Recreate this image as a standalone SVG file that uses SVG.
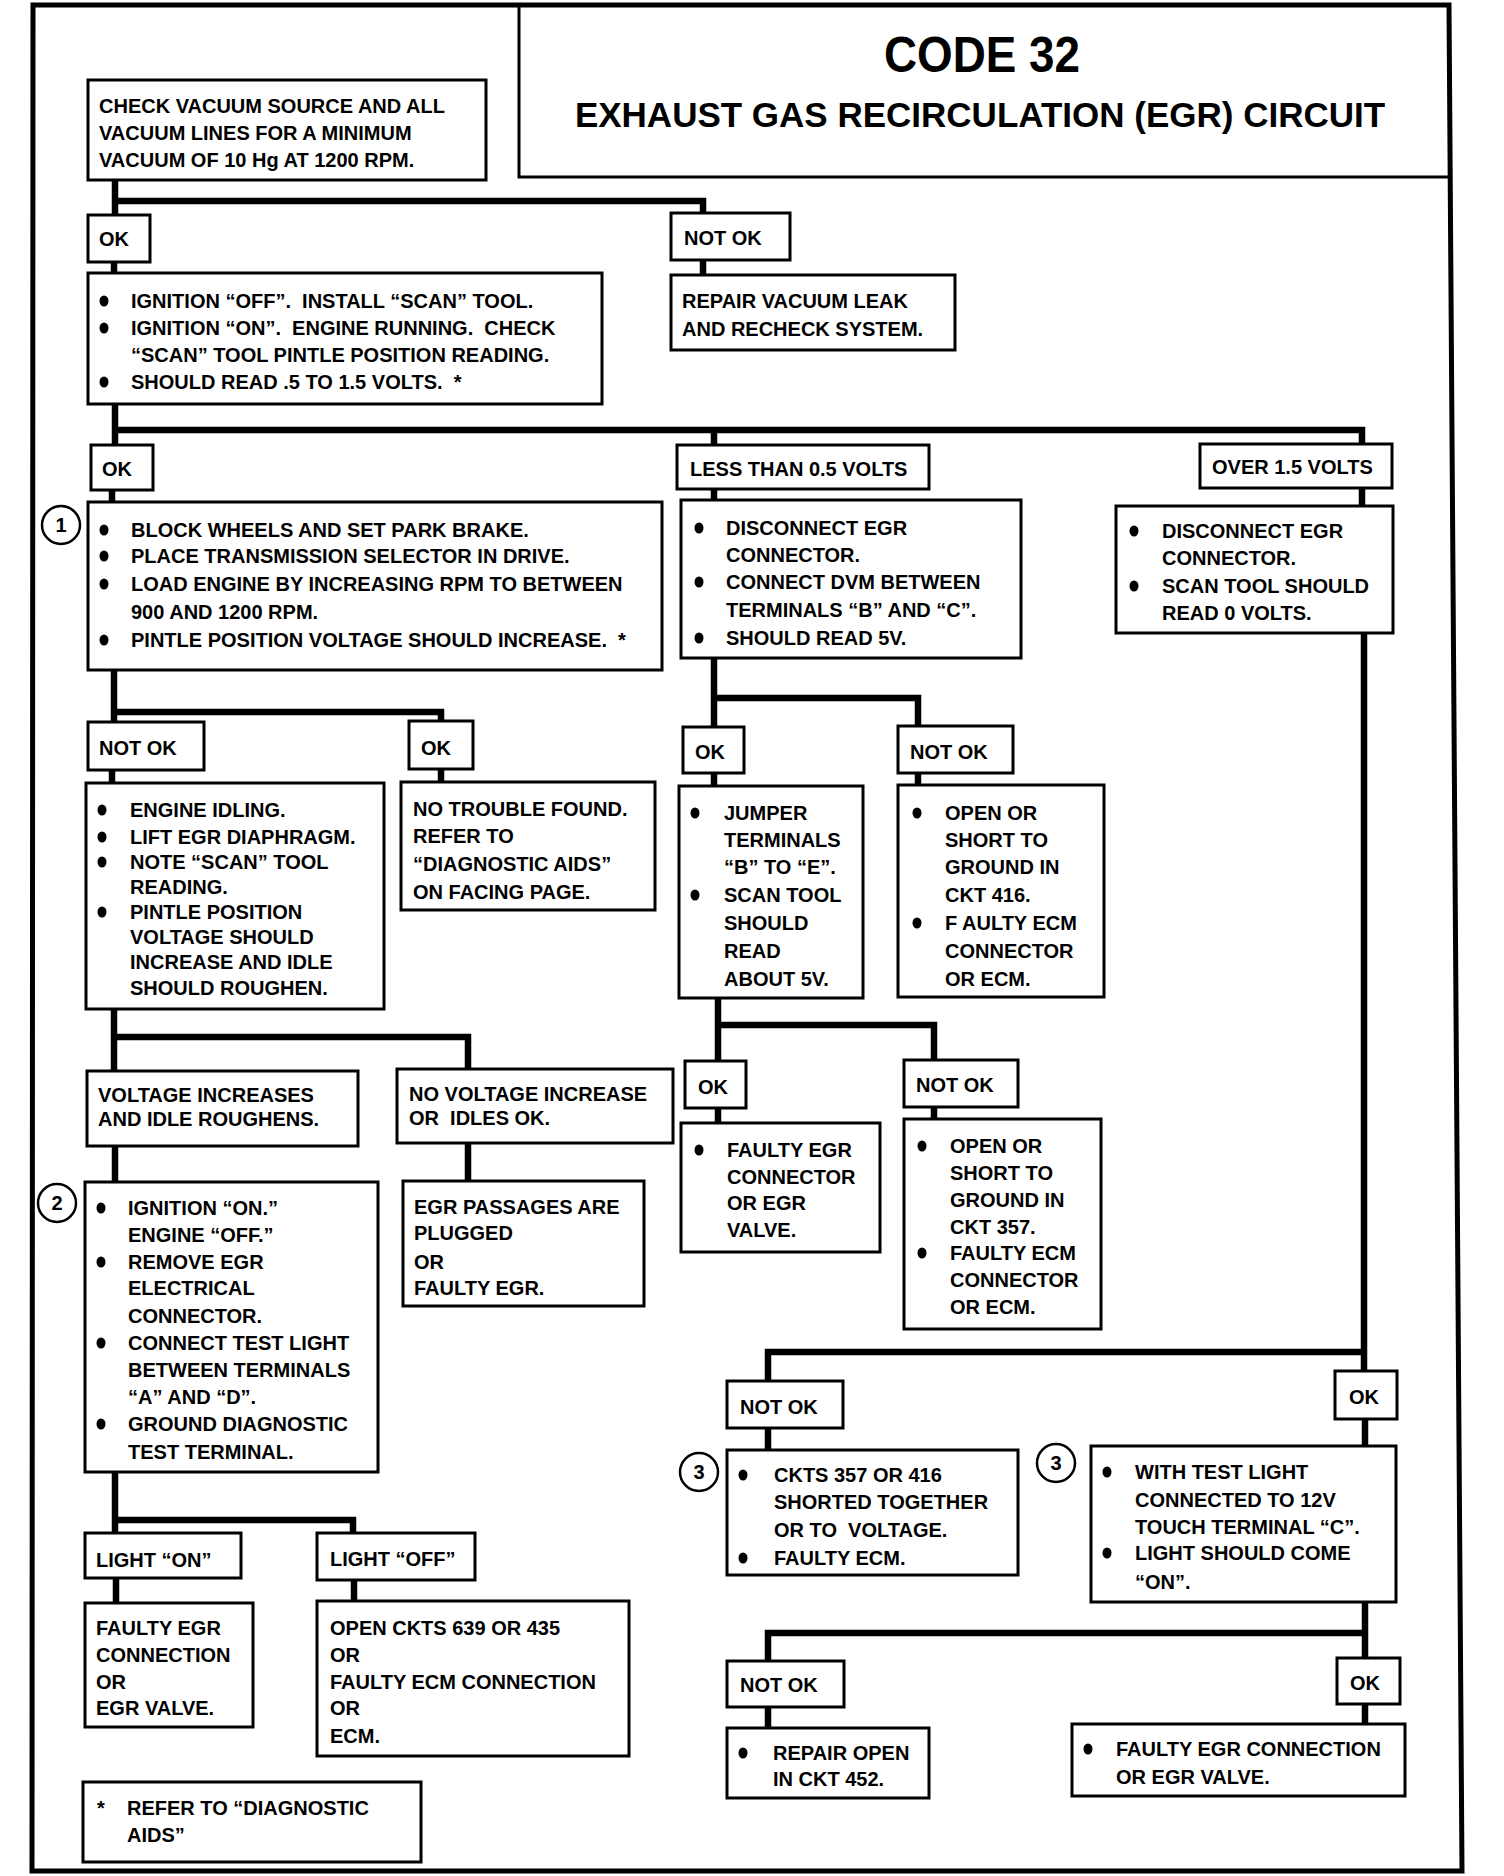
<svg xmlns="http://www.w3.org/2000/svg" width="1504" height="1876" viewBox="0 0 1504 1876">
<style>
.bx{fill:#fff;stroke:#000;stroke-width:3}
.w{fill:none;stroke:#000;stroke-width:6.5;stroke-linejoin:miter}
.t{font-family:"Liberation Sans",Arial,sans-serif;font-weight:bold;font-size:20px;fill:#000;white-space:pre}
.ti{font-family:"Liberation Sans",Arial,sans-serif;font-weight:bold;fill:#000;text-anchor:middle}
.bu{fill:#000}
.cn{fill:#fff;stroke:#000;stroke-width:2.5}
.cnt{font-family:"Liberation Sans",Arial,sans-serif;font-weight:bold;font-size:20px;text-anchor:middle;fill:#000}
</style>
<rect width="1504" height="1876" fill="#fff"/>
<g id="frame">
<path d="M33,5 L1449,5 L1462,1871 L32,1871 Z" fill="none" stroke="#000" stroke-width="5"/>
</g>
<g id="title">
<path d="M519,5 V177 H1451" fill="none" stroke="#000" stroke-width="3"/>
<text class="ti" x="982" y="72" font-size="50" textLength="196" lengthAdjust="spacingAndGlyphs">CODE 32</text>
<text class="ti" x="980" y="127" font-size="35">EXHAUST GAS RECIRCULATION (EGR) CIRCUIT</text>
</g>
<g id="connectors">
<path class="w" d="M115,181 V216"/>
<path class="w" d="M115,201 H703 V214"/>
<path class="w" d="M703,259 V276"/>
<path class="w" d="M114,261 V274"/>
<path class="w" d="M115,403 V446"/>
<path class="w" d="M115,430 H1362 V445"/>
<path class="w" d="M714,430 V446"/>
<path class="w" d="M112,489 V503"/>
<path class="w" d="M714,488 V501"/>
<path class="w" d="M1362,487 V507"/>
<path class="w" d="M114,669 V723"/>
<path class="w" d="M114,712 H441 V722"/>
<path class="w" d="M112,769 V784"/>
<path class="w" d="M441,768 V783"/>
<path class="w" d="M714,657 V728"/>
<path class="w" d="M714,698 H918 V727"/>
<path class="w" d="M714,772 V787"/>
<path class="w" d="M918,772 V786"/>
<path class="w" d="M114,1008 V1072"/>
<path class="w" d="M114,1037 H468 V1070"/>
<path class="w" d="M115,1145 V1183"/>
<path class="w" d="M468,1142 V1182"/>
<path class="w" d="M115,1471 V1534"/>
<path class="w" d="M115,1520 H353 V1534"/>
<path class="w" d="M116,1577 V1604"/>
<path class="w" d="M354,1579 V1602"/>
<path class="w" d="M718,997 V1062"/>
<path class="w" d="M718,1025 H934 V1061"/>
<path class="w" d="M718,1107 V1124"/>
<path class="w" d="M934,1106 V1120"/>
<path class="w" d="M1364,632 V1372"/>
<path class="w" d="M1364,1352 H768 V1382"/>
<path class="w" d="M768,1427 V1451"/>
<path class="w" d="M1365,1418 V1447"/>
<path class="w" d="M1365,1601 V1659"/>
<path class="w" d="M1365,1633 H768 V1662"/>
<path class="w" d="M768,1706 V1729"/>
<path class="w" d="M1365,1703 V1725"/>
</g>
<g id="n_check">
<rect class="bx" x="88" y="80" width="398" height="100"/>
<text class="t"><tspan x="99" y="113">CHECK VACUUM SOURCE AND ALL</tspan><tspan x="99" y="140">VACUUM LINES FOR A MINIMUM</tspan><tspan x="99" y="167">VACUUM OF 10 Hg AT 1200 RPM.</tspan></text>
</g>
<g id="n_ok1"><rect class="bx" x="88" y="215" width="62" height="47"/><text class="t" x="99" y="246">OK</text></g>
<g id="n_notok1"><rect class="bx" x="671" y="213" width="119" height="47"/><text class="t" x="684" y="245">NOT OK</text></g>
<g id="n_ign1">
<rect class="bx" x="88" y="273" width="514" height="131"/>
<ellipse class="bu" cx="104" cy="301" rx="4.5" ry="5.5"/><ellipse class="bu" cx="104" cy="328" rx="4.5" ry="5.5"/><ellipse class="bu" cx="104" cy="382" rx="4.5" ry="5.5"/>
<text class="t"><tspan x="131" y="308">IGNITION “OFF”.  INSTALL “SCAN” TOOL.</tspan><tspan x="131" y="335">IGNITION “ON”.  ENGINE RUNNING.  CHECK</tspan><tspan x="131" y="362">“SCAN” TOOL PINTLE POSITION READING.</tspan><tspan x="131" y="389">SHOULD READ .5 TO 1.5 VOLTS.  *</tspan></text>
</g>
<g id="n_repair">
<rect class="bx" x="671" y="275" width="284" height="75"/>
<text class="t"><tspan x="682" y="308">REPAIR VACUUM LEAK</tspan><tspan x="682" y="336">AND RECHECK SYSTEM.</tspan></text>
</g>
<g id="n_ok2"><rect class="bx" x="91" y="445" width="62" height="45"/><text class="t" x="102" y="476">OK</text></g>
<g id="n_less"><rect class="bx" x="677" y="445" width="252" height="44"/><text class="t" x="690" y="476">LESS THAN 0.5 VOLTS</text></g>
<g id="n_over"><rect class="bx" x="1200" y="444" width="192" height="44"/><text class="t" x="1212" y="474">OVER 1.5 VOLTS</text></g>
<g id="n_block">
<circle class="cn" cx="61" cy="525" r="19"/><text class="cnt" x="61" y="532">1</text>
<rect class="bx" x="88" y="502" width="574" height="168"/>
<ellipse class="bu" cx="104" cy="530" rx="4.5" ry="5.5"/><ellipse class="bu" cx="104" cy="556" rx="4.5" ry="5.5"/><ellipse class="bu" cx="104" cy="584" rx="4.5" ry="5.5"/><ellipse class="bu" cx="104" cy="640" rx="4.5" ry="5.5"/>
<text class="t"><tspan x="131" y="537">BLOCK WHEELS AND SET PARK BRAKE.</tspan><tspan x="131" y="563">PLACE TRANSMISSION SELECTOR IN DRIVE.</tspan><tspan x="131" y="591">LOAD ENGINE BY INCREASING RPM TO BETWEEN</tspan><tspan x="131" y="619">900 AND 1200 RPM.</tspan><tspan x="131" y="647">PINTLE POSITION VOLTAGE SHOULD INCREASE.  *</tspan></text>
</g>
<g id="n_disc1">
<rect class="bx" x="681" y="500" width="340" height="158"/>
<ellipse class="bu" cx="699" cy="528" rx="4.5" ry="5.5"/><ellipse class="bu" cx="699" cy="582" rx="4.5" ry="5.5"/><ellipse class="bu" cx="699" cy="638" rx="4.5" ry="5.5"/>
<text class="t"><tspan x="726" y="535">DISCONNECT EGR</tspan><tspan x="726" y="562">CONNECTOR.</tspan><tspan x="726" y="589">CONNECT DVM BETWEEN</tspan><tspan x="726" y="617">TERMINALS “B” AND “C”.</tspan><tspan x="726" y="645">SHOULD READ 5V.</tspan></text>
</g>
<g id="n_disc2">
<rect class="bx" x="1116" y="506" width="277" height="127"/>
<ellipse class="bu" cx="1134" cy="531" rx="4.5" ry="5.5"/><ellipse class="bu" cx="1134" cy="586" rx="4.5" ry="5.5"/>
<text class="t"><tspan x="1162" y="538">DISCONNECT EGR</tspan><tspan x="1162" y="565">CONNECTOR.</tspan><tspan x="1162" y="593">SCAN TOOL SHOULD</tspan><tspan x="1162" y="620">READ 0 VOLTS.</tspan></text>
</g>
<g id="n_notok_l"><rect class="bx" x="88" y="722" width="116" height="48"/><text class="t" x="99" y="755">NOT OK</text></g>
<g id="n_ok_ml"><rect class="bx" x="409" y="721" width="64" height="48"/><text class="t" x="421" y="755">OK</text></g>
<g id="n_ok_j"><rect class="bx" x="683" y="727" width="61" height="46"/><text class="t" x="695" y="759">OK</text></g>
<g id="n_notok_416"><rect class="bx" x="898" y="726" width="115" height="47"/><text class="t" x="910" y="759">NOT OK</text></g>
<g id="n_engine">
<rect class="bx" x="86" y="783" width="298" height="226"/>
<ellipse class="bu" cx="102" cy="810" rx="4.5" ry="5.5"/><ellipse class="bu" cx="102" cy="837" rx="4.5" ry="5.5"/><ellipse class="bu" cx="102" cy="862" rx="4.5" ry="5.5"/><ellipse class="bu" cx="102" cy="912" rx="4.5" ry="5.5"/>
<text class="t"><tspan x="130" y="817">ENGINE IDLING.</tspan><tspan x="130" y="844">LIFT EGR DIAPHRAGM.</tspan><tspan x="130" y="869">NOTE “SCAN” TOOL</tspan><tspan x="130" y="894">READING.</tspan><tspan x="130" y="919">PINTLE POSITION</tspan><tspan x="130" y="944">VOLTAGE SHOULD</tspan><tspan x="130" y="969">INCREASE AND IDLE</tspan><tspan x="130" y="995">SHOULD ROUGHEN.</tspan></text>
</g>
<g id="n_notrouble">
<rect class="bx" x="401" y="782" width="254" height="128"/>
<text class="t"><tspan x="413" y="816">NO TROUBLE FOUND.</tspan><tspan x="413" y="843">REFER TO</tspan><tspan x="413" y="871">“DIAGNOSTIC AIDS”</tspan><tspan x="413" y="899">ON FACING PAGE.</tspan></text>
</g>
<g id="n_jumper">
<rect class="bx" x="679" y="786" width="184" height="212"/>
<ellipse class="bu" cx="695" cy="813" rx="4.5" ry="5.5"/><ellipse class="bu" cx="695" cy="895" rx="4.5" ry="5.5"/>
<text class="t"><tspan x="724" y="820">JUMPER</tspan><tspan x="724" y="847">TERMINALS</tspan><tspan x="724" y="874">“B” TO “E”.</tspan><tspan x="724" y="902">SCAN TOOL</tspan><tspan x="724" y="930">SHOULD</tspan><tspan x="724" y="958">READ</tspan><tspan x="724" y="986">ABOUT 5V.</tspan></text>
</g>
<g id="n_open416">
<rect class="bx" x="898" y="785" width="206" height="212"/>
<ellipse class="bu" cx="917" cy="813" rx="4.5" ry="5.5"/><ellipse class="bu" cx="917" cy="923" rx="4.5" ry="5.5"/>
<text class="t"><tspan x="945" y="820">OPEN OR</tspan><tspan x="945" y="847">SHORT TO</tspan><tspan x="945" y="874">GROUND IN</tspan><tspan x="945" y="902">CKT 416.</tspan><tspan x="945" y="930">F AULTY ECM</tspan><tspan x="945" y="958">CONNECTOR</tspan><tspan x="945" y="986">OR ECM.</tspan></text>
</g>
<g id="n_voltinc">
<rect class="bx" x="87" y="1071" width="271" height="75"/>
<text class="t"><tspan x="98" y="1102">VOLTAGE INCREASES</tspan><tspan x="98" y="1126">AND IDLE ROUGHENS.</tspan></text>
</g>
<g id="n_novolt">
<rect class="bx" x="397" y="1069" width="276" height="74"/>
<text class="t"><tspan x="409" y="1101">NO VOLTAGE INCREASE</tspan><tspan x="409" y="1125">OR  IDLES OK.</tspan></text>
</g>
<g id="n_ok_f"><rect class="bx" x="685" y="1061" width="61" height="47"/><text class="t" x="698" y="1094">OK</text></g>
<g id="n_notok_357"><rect class="bx" x="904" y="1060" width="114" height="47"/><text class="t" x="916" y="1092">NOT OK</text></g>
<g id="n_faultyconn">
<rect class="bx" x="681" y="1123" width="199" height="129"/>
<ellipse class="bu" cx="699" cy="1150" rx="4.5" ry="5.5"/>
<text class="t"><tspan x="727" y="1157">FAULTY EGR</tspan><tspan x="727" y="1184">CONNECTOR</tspan><tspan x="727" y="1210">OR EGR</tspan><tspan x="727" y="1237">VALVE.</tspan></text>
</g>
<g id="n_open357">
<rect class="bx" x="904" y="1119" width="197" height="210"/>
<ellipse class="bu" cx="922" cy="1146" rx="4.5" ry="5.5"/><ellipse class="bu" cx="922" cy="1253" rx="4.5" ry="5.5"/>
<text class="t"><tspan x="950" y="1153">OPEN OR</tspan><tspan x="950" y="1180">SHORT TO</tspan><tspan x="950" y="1207">GROUND IN</tspan><tspan x="950" y="1234">CKT 357.</tspan><tspan x="950" y="1260">FAULTY ECM</tspan><tspan x="950" y="1287">CONNECTOR</tspan><tspan x="950" y="1314">OR ECM.</tspan></text>
</g>
<g id="n_ignon">
<circle class="cn" cx="57" cy="1203" r="19"/><text class="cnt" x="57" y="1210">2</text>
<rect class="bx" x="85" y="1182" width="293" height="290"/>
<ellipse class="bu" cx="101" cy="1208" rx="4.5" ry="5.5"/><ellipse class="bu" cx="101" cy="1262" rx="4.5" ry="5.5"/><ellipse class="bu" cx="101" cy="1343" rx="4.5" ry="5.5"/><ellipse class="bu" cx="101" cy="1424" rx="4.5" ry="5.5"/>
<text class="t"><tspan x="128" y="1215">IGNITION “ON.”</tspan><tspan x="128" y="1242">ENGINE “OFF.”</tspan><tspan x="128" y="1269">REMOVE EGR</tspan><tspan x="128" y="1295">ELECTRICAL</tspan><tspan x="128" y="1323">CONNECTOR.</tspan><tspan x="128" y="1350">CONNECT TEST LIGHT</tspan><tspan x="128" y="1377">BETWEEN TERMINALS</tspan><tspan x="128" y="1404">“A” AND “D”.</tspan><tspan x="128" y="1431">GROUND DIAGNOSTIC</tspan><tspan x="128" y="1459">TEST TERMINAL.</tspan></text>
</g>
<g id="n_egrpass">
<rect class="bx" x="403" y="1181" width="241" height="125"/>
<text class="t"><tspan x="414" y="1214">EGR PASSAGES ARE</tspan><tspan x="414" y="1240">PLUGGED</tspan><tspan x="414" y="1269">OR</tspan><tspan x="414" y="1295">FAULTY EGR.</tspan></text>
</g>
<g id="n_notok_3"><rect class="bx" x="727" y="1381" width="116" height="47"/><text class="t" x="740" y="1414">NOT OK</text></g>
<g id="n_ok_r1"><rect class="bx" x="1335" y="1371" width="62" height="48"/><text class="t" x="1349" y="1404">OK</text></g>
<g id="n_ckts">
<circle class="cn" cx="699" cy="1472" r="19"/><text class="cnt" x="699" y="1479">3</text>
<rect class="bx" x="727" y="1450" width="291" height="125"/>
<ellipse class="bu" cx="743" cy="1475" rx="4.5" ry="5.5"/><ellipse class="bu" cx="743" cy="1558" rx="4.5" ry="5.5"/>
<text class="t"><tspan x="774" y="1482">CKTS 357 OR 416</tspan><tspan x="774" y="1509">SHORTED TOGETHER</tspan><tspan x="774" y="1537">OR TO  VOLTAGE.</tspan><tspan x="774" y="1565">FAULTY ECM.</tspan></text>
</g>
<g id="n_testlight">
<circle class="cn" cx="1056" cy="1463" r="19"/><text class="cnt" x="1056" y="1470">3</text>
<rect class="bx" x="1091" y="1446" width="305" height="156"/>
<ellipse class="bu" cx="1107" cy="1472" rx="4.5" ry="5.5"/><ellipse class="bu" cx="1107" cy="1553" rx="4.5" ry="5.5"/>
<text class="t"><tspan x="1135" y="1479">WITH TEST LIGHT</tspan><tspan x="1135" y="1507">CONNECTED TO 12V</tspan><tspan x="1135" y="1534">TOUCH TERMINAL “C”.</tspan><tspan x="1135" y="1560">LIGHT SHOULD COME</tspan><tspan x="1135" y="1589">“ON”.</tspan></text>
</g>
<g id="n_lighton"><rect class="bx" x="85" y="1533" width="156" height="45"/><text class="t" x="96" y="1567">LIGHT “ON”</text></g>
<g id="n_lightoff"><rect class="bx" x="317" y="1533" width="158" height="47"/><text class="t" x="330" y="1566">LIGHT “OFF”</text></g>
<g id="n_faultyl">
<rect class="bx" x="85" y="1603" width="168" height="124"/>
<text class="t"><tspan x="96" y="1635">FAULTY EGR</tspan><tspan x="96" y="1662">CONNECTION</tspan><tspan x="96" y="1689">OR</tspan><tspan x="96" y="1715">EGR VALVE.</tspan></text>
</g>
<g id="n_openckts">
<rect class="bx" x="317" y="1601" width="312" height="155"/>
<text class="t"><tspan x="330" y="1635">OPEN CKTS 639 OR 435</tspan><tspan x="330" y="1662">OR</tspan><tspan x="330" y="1689">FAULTY ECM CONNECTION</tspan><tspan x="330" y="1715">OR</tspan><tspan x="330" y="1743">ECM.</tspan></text>
</g>
<g id="n_notok_4"><rect class="bx" x="727" y="1661" width="117" height="46"/><text class="t" x="740" y="1692">NOT OK</text></g>
<g id="n_ok_r2"><rect class="bx" x="1337" y="1658" width="63" height="46"/><text class="t" x="1350" y="1690">OK</text></g>
<g id="n_repairopen">
<rect class="bx" x="727" y="1728" width="202" height="70"/>
<ellipse class="bu" cx="743" cy="1753" rx="4.5" ry="5.5"/>
<text class="t"><tspan x="773" y="1760">REPAIR OPEN</tspan><tspan x="773" y="1786">IN CKT 452.</tspan></text>
</g>
<g id="n_faultyr">
<rect class="bx" x="1072" y="1724" width="333" height="72"/>
<ellipse class="bu" cx="1088" cy="1749" rx="4.5" ry="5.5"/>
<text class="t"><tspan x="1116" y="1756">FAULTY EGR CONNECTION</tspan><tspan x="1116" y="1784">OR EGR VALVE.</tspan></text>
</g>
<g id="n_note">
<rect class="bx" x="83" y="1782" width="338" height="80"/>
<text class="t"><tspan x="97" y="1815">*</tspan><tspan x="127" y="1815">REFER TO “DIAGNOSTIC</tspan><tspan x="127" y="1842">AIDS”</tspan></text>
</g>
</svg>
